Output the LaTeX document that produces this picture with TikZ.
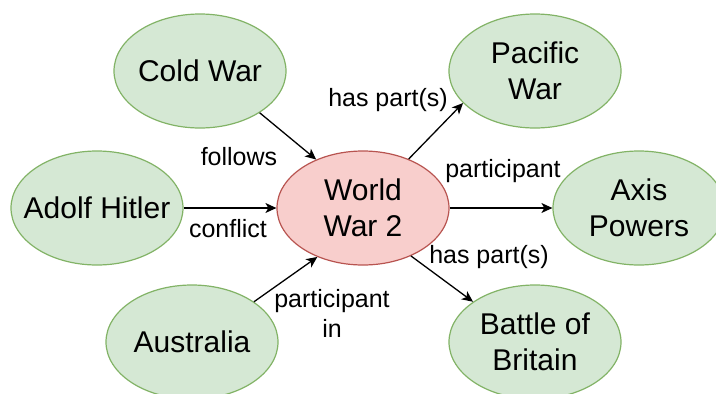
\documentclass[tikz,border=0pt]{standalone}
\usepackage{fontspec}
\setmainfont{Liberation Sans}
\usetikzlibrary{shapes.geometric,arrows.meta}
\definecolor{gfill}{HTML}{D5E8D4}
\definecolor{gline}{HTML}{82B366}
\definecolor{rfill}{HTML}{F8CECC}
\definecolor{rline}{HTML}{B85450}
\tikzset{
  concept/.style={ellipse, draw=gline, fill=gfill, line width=1.2pt, minimum width=172pt, minimum height=114pt, inner xsep=-30pt, inner ysep=0pt, align=center, font=\fontsize{30}{35.5}\selectfont},
  central/.style={concept, draw=rline, fill=rfill},
  rel/.style={-{Stealth[length=11pt,width=10pt,inset=3pt]}, line width=1.3pt, black},
  lbl/.style={align=center, inner sep=0pt, font=\fontsize{25}{30}\selectfont}
}
\begin{document}
\begin{tikzpicture}[x=1pt,y=-1pt]
\useasboundingbox (0,0) rectangle (716,394);
\node[central] (ww) at (363,208) {World\\War 2};
\node[concept] (cw) at (200,71) {Cold War};
\node[concept] (ah) at (97,208) {Adolf Hitler};
\node[concept] (au) at (192,342) {Australia};
\node[concept] (pw) at (535,71) {Pacific\\War};
\node[concept] (ax) at (639,208) {Axis\\Powers};
\node[concept] (bb) at (535,342) {Battle of\\Britain};
\draw[rel] (cw.-35) -- (ww.134);
\draw[rel] (ah.east) -- (ww.west);
\draw[rel] (au.33) -- (ww.227);
\draw[rel] (ww.47) -- (pw.204);
\draw[rel] (ww.east) -- (ax.west);
\draw[rel] (ww.-45) -- (bb.147);
\node[lbl] (l1) at (239,157) {follows};
\node[lbl] (l2) at (228,229) {conflict};
\node[lbl] (l3) at (332,313) {participant\\in};
\node[lbl] (l4) at (388,100) {has part(s)};
\node[lbl] (l5) at (503,171) {participant};
\node[lbl] (l6) at (489,257) {has part(s)};
\end{tikzpicture}
\end{document}
